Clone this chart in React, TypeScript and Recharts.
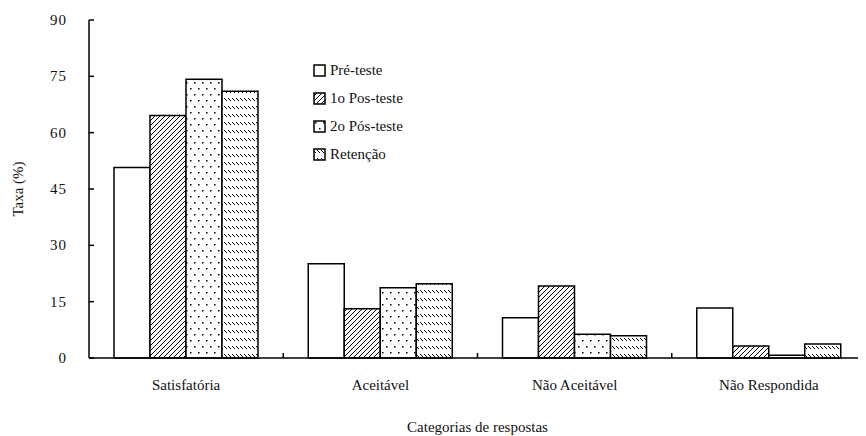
import { BarChart, Bar, XAxis, YAxis, Legend } from "recharts";

const categories = ["Satisfatória", "Aceitável", "Não Aceitável", "Não Respondida"];
const preTeste = [50.7, 25.1, 10.7, 13.3];
const posTeste1 = [64.6, 13.1, 19.2, 3.2];
const posTeste2 = [74.2, 18.7, 6.3, 0.7];
const retencao = [71.0, 19.8, 5.9, 3.7];
const yTicks = [0, 15, 30, 45, 60, 75, 90];

const seriesNames = ["Pré-teste", "1o Pos-teste", "2o Pós-teste", "Retenção"];
const seriesKeys = ["pre", "pos1", "pos2", "ret"];
const seriesFills = ["#ffffff", "url(#hatch)", "url(#dots)", "url(#dashes)"];

const data = categories.map((name, i) => ({
  name,
  pre: preTeste[i],
  pos1: posTeste1[i],
  pos2: posTeste2[i],
  ret: retencao[i],
}));

const FONT = "Liberation Serif, Times New Roman, serif";
const WIDTH = 858;
const HEIGHT = 428;
const Y_AXIS_W = 81;
const PLOT_W = WIDTH - Y_AXIS_W;

function YTick(props: any) {
  const { x, y, payload } = props;
  return (
    <g>
      <line x1={x} x2={x + 5} y1={y} y2={y} stroke="#000" strokeWidth={1.5} />
      <text x={x - 22} y={y} dy={5} textAnchor="end" fontFamily={FONT} fontSize={15} letterSpacing={1} fill="#111">
        {payload.value}
      </text>
    </g>
  );
}

function XTick(props: any) {
  const { x, y, payload, index } = props;
  const band = PLOT_W / categories.length;
  return (
    <g>
      {index < categories.length - 1 && (
        <line x1={x + band / 2} x2={x + band / 2} y1={y} y2={y - 5} stroke="#000" strokeWidth={1.5} />
      )}
      <text x={x} y={y} dy={32} textAnchor="middle" fontFamily={FONT} fontSize={15} fill="#111">
        {payload.value}
      </text>
    </g>
  );
}

function YLabel(props: any) {
  const { viewBox } = props;
  const cx = viewBox.x + 10;
  const cy = viewBox.y + viewBox.height / 2;
  return (
    <text x={cx} y={cy} transform={`rotate(-90 ${cx} ${cy})`} dy={5} textAnchor="middle" fontFamily={FONT} fontSize={15} fill="#111">
      Taxa (%)
    </text>
  );
}

function LegendBox() {
  return (
    <div style={{ fontFamily: FONT, fontSize: 15, color: "#111" }}>
      {seriesNames.map((n, i) => (
        <div key={n} style={{ display: "flex", alignItems: "center", height: 28 }}>
          <svg width={13} height={13} style={{ marginRight: 4 }}>
            <rect x={1} y={1} width={11} height={11} fill={seriesFills[i]} stroke="#000" strokeWidth={1.5} />
          </svg>
          <span>{n}</span>
        </div>
      ))}
    </div>
  );
}

export default function App() {
  return (
    <BarChart
      width={WIDTH}
      height={HEIGHT}
      data={data}
      margin={{ top: 12, right: 0, bottom: 0, left: 0 }}
      barGap={0}
      barSize={36}
      style={{ fontFamily: FONT }}
    >
      <defs>
        <pattern id="hatch" patternUnits="userSpaceOnUse" width={5} height={5}>
          <rect width={5} height={5} fill="#fff" />
          <path d="M0,5 L5,0 M-1,1 L1,-1 M4,6 L6,4" stroke="#000" strokeWidth={1} />
        </pattern>
        <pattern id="dots" patternUnits="userSpaceOnUse" width={8} height={12}>
          <rect width={8} height={12} fill="#fff" />
          <rect x={2} y={2} width={1.5} height={1.5} fill="#000" />
          <rect x={6} y={8} width={1.5} height={1.5} fill="#000" />
        </pattern>
        <pattern id="dashes" patternUnits="userSpaceOnUse" width={4} height={8}>
          <rect width={4} height={8} fill="#fff" />
          <path d="M0,2 L3,5" stroke="#000" strokeWidth={1} />
        </pattern>
      </defs>
      <XAxis
        dataKey="name"
        height={78}
        tickLine={false}
        tickSize={0}
        tickMargin={0}
        tick={<XTick />}
        axisLine={{ stroke: "#000", strokeWidth: 1.5 }}
        label={{ value: "Categorias de respostas", position: "insideBottom", offset: 4, fontFamily: FONT, fontSize: 15, fill: "#111" }}
      />
      <YAxis
        width={Y_AXIS_W}
        domain={[0, 90]}
        ticks={yTicks}
        interval={0}
        tickLine={false}
        tickSize={0}
        tickMargin={0}
        tick={<YTick />}
        axisLine={{ stroke: "#000", strokeWidth: 1.5 }}
        label={<YLabel />}
      />
      <Legend
        layout="vertical"
        verticalAlign="middle"
        align="center"
        wrapperStyle={{ left: 305, top: 48, width: 160 }}
        content={<LegendBox />}
      />
      {seriesKeys.map((k, i) => (
        <Bar
          key={k}
          dataKey={k}
          name={seriesNames[i]}
          fill={seriesFills[i]}
          stroke="#000"
          strokeWidth={1.5}
          isAnimationActive={false}
        />
      ))}
    </BarChart>
  );
}
